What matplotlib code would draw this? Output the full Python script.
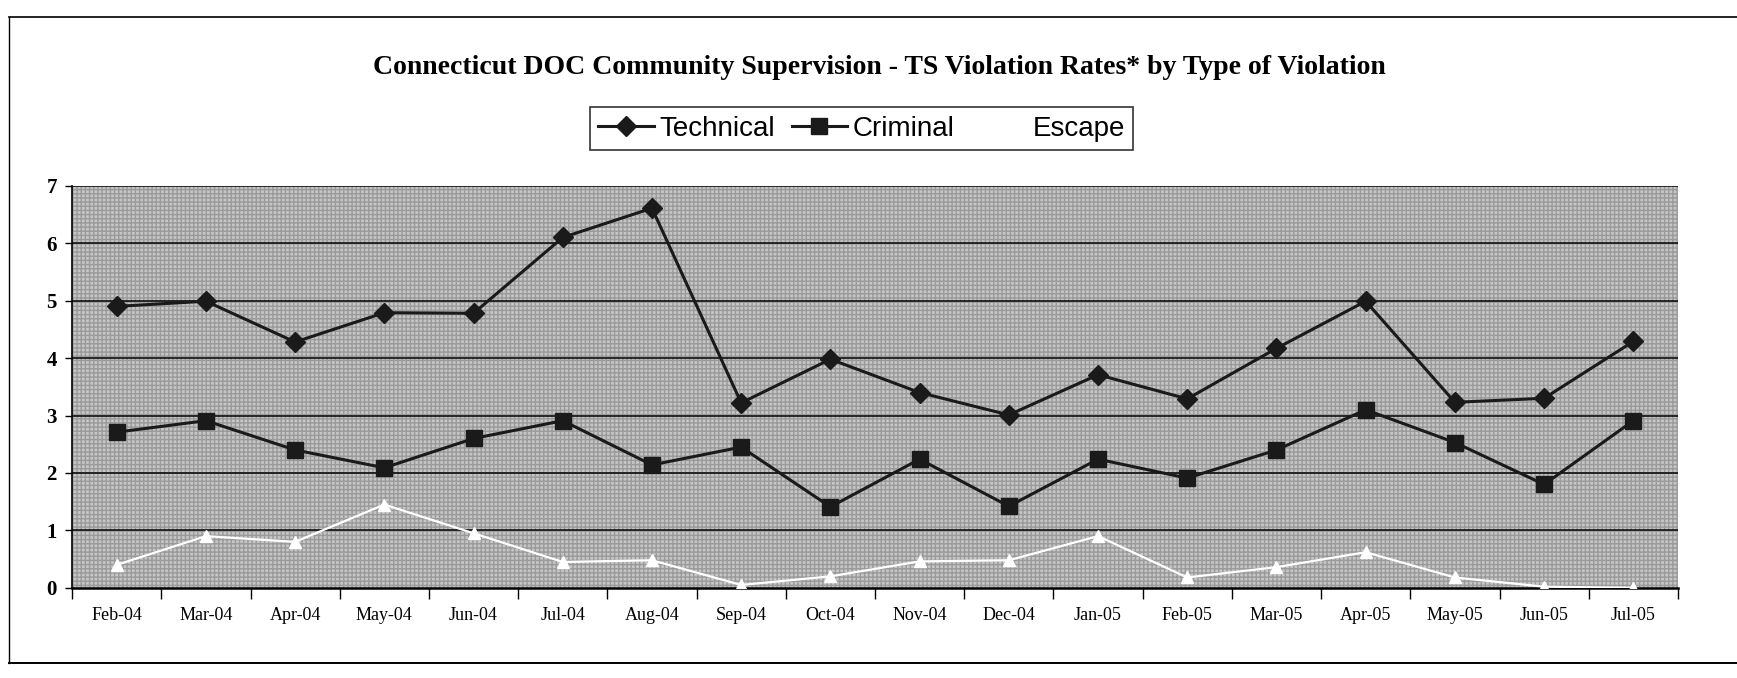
import numpy as np
import matplotlib.pyplot as plt
from matplotlib.patches import Rectangle

months = ['Feb-04', 'Mar-04', 'Apr-04', 'May-04', 'Jun-04', 'Jul-04', 'Aug-04', 'Sep-04', 'Oct-04',
          'Nov-04', 'Dec-04', 'Jan-05', 'Feb-05', 'Mar-05', 'Apr-05', 'May-05', 'Jun-05', 'Jul-05']
technical = [4.90, 4.99, 4.28, 4.79, 4.78, 6.10, 6.61, 3.22, 3.98, 3.40, 3.01, 3.71, 3.29, 4.17, 4.99, 3.23, 3.30, 4.29]
criminal = [2.71, 2.91, 2.40, 2.09, 2.60, 2.91, 2.14, 2.45, 1.41, 2.24, 1.42, 2.24, 1.91, 2.40, 3.10, 2.53, 1.80, 2.91]
escape = [0.40, 0.90, 0.80, 1.45, 0.95, 0.45, 0.48, 0.05, 0.20, 0.46, 0.48, 0.90, 0.18, 0.36, 0.62, 0.18, 0.02, 0.00]

fig = plt.figure(figsize=(17.37, 6.78), dpi=100)
ax = fig.add_axes([0.0415, 0.133, 0.9245, 0.593])

x = np.arange(len(months))

# fond gris "tramé" comme dans le scan
ax.set_facecolor('#c6c6c6')
ax.add_patch(Rectangle((-0.5, 0), len(months), 7, facecolor='none', edgecolor='#9a9a9a',
                       hatch='++++', linewidth=0, zorder=0.5))

for v in range(1, 8):
    ax.axhline(v, color='black', linewidth=1.1, zorder=1)

ax.plot(x, technical, color='#1a1a1a', linewidth=2.2, marker='D', markersize=10,
        markerfacecolor='#1a1a1a', label='Technical', zorder=3)
ax.plot(x, criminal, color='#1a1a1a', linewidth=2.2, marker='s', markersize=11,
        markerfacecolor='#1a1a1a', label='Criminal', zorder=3)
ax.plot(x, escape, color='white', linewidth=1.6, marker='^', markersize=8,
        markerfacecolor='white', markeredgecolor='white', label='Escape', zorder=3)

ax.set_xlim(-0.5, len(months) - 0.5)
ax.set_ylim(0, 7)
ax.set_yticks(range(0, 8))
ax.set_yticklabels([str(v) for v in range(0, 8)], fontfamily='Liberation Serif',
                   fontweight='bold', fontsize=15)
ax.set_xticks(np.arange(-0.5, len(months), 1.0))
ax.set_xticklabels([])
ax.set_xticks(x, minor=True)
ax.set_xticklabels(months, minor=True, fontfamily='Liberation Serif', fontsize=13)
ax.tick_params(axis='x', which='major', direction='out', length=8, width=1)
ax.tick_params(axis='x', which='minor', length=0, pad=14)
ax.tick_params(axis='y', direction='out', length=5, width=1, pad=6)

for side in ['top', 'right']:
    ax.spines[side].set_visible(False)
ax.spines['left'].set_linewidth(1.2)
ax.spines['bottom'].set_linewidth(1.8)

fig.text(0.506, 0.900, 'Connecticut DOC Community Supervision - TS Violation Rates* by Type of Violation',
         ha='center', va='center', fontfamily='Liberation Serif', fontweight='bold', fontsize=20)

leg = fig.legend(loc='center', bbox_to_anchor=(0.496, 0.81), ncol=3, frameon=True,
                 fancybox=False, edgecolor='black', handlelength=2.0, columnspacing=0.6,
                 handletextpad=0.2, borderpad=0.3,
                 prop={'family': 'Liberation Sans', 'size': 20})
leg.get_frame().set_linewidth(1.2)

# cadre extérieur
fig.add_artist(plt.Line2D([0.005, 1.0], [0.975, 0.975], color='black', linewidth=1.2))
fig.add_artist(plt.Line2D([0.005, 0.005], [0.975, 0.022], color='black', linewidth=1.0))
fig.add_artist(plt.Line2D([0.005, 1.0], [0.022, 0.022], color='black', linewidth=1.4))

fig.savefig('out.png', dpi=100)
